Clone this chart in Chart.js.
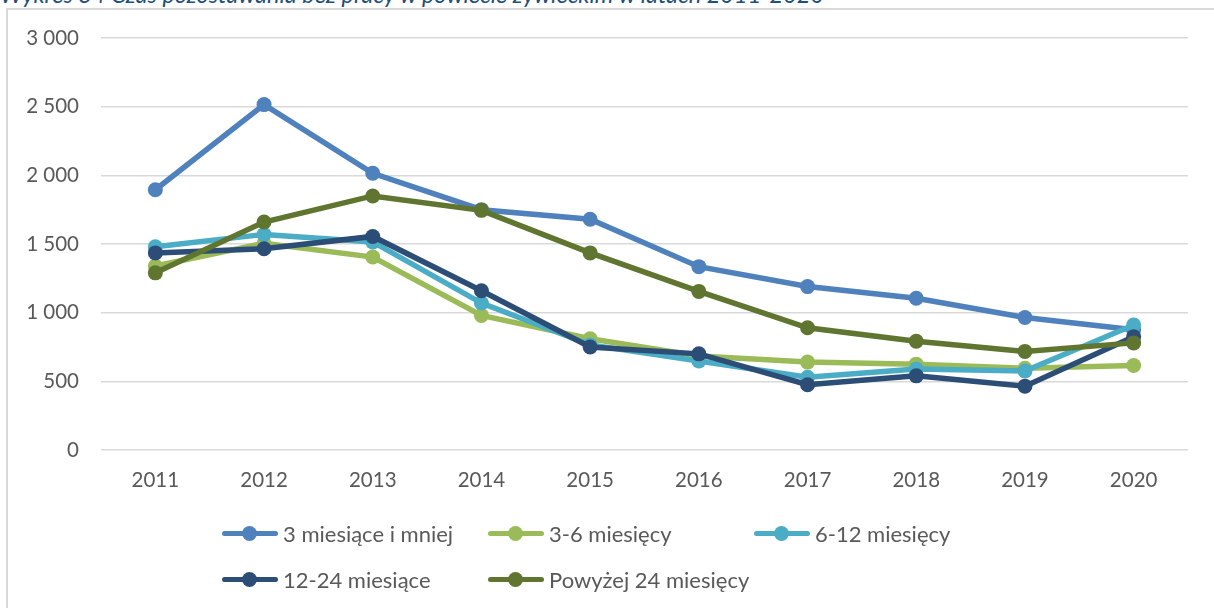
<!DOCTYPE html>
<html lang="pl">
<head>
<meta charset="utf-8">
<script src="https://cdn.jsdelivr.net/npm/chart.js@4/dist/chart.umd.min.js"></script>
<style>
  html, body { margin: 0; padding: 0; background: #fff; overflow: hidden; }
  body { width: 1214px; height: 608px; position: relative; font-family: Lato, "Open Sans", sans-serif; }
  .title {
    position: absolute; left: 0; top: -20px; white-space: nowrap;
    font-style: italic; font-size: 23.5px; color: #1f4e79;
  }
  .frame {
    position: absolute; left: 6px; top: 8px; width: 1300px; height: 700px;
    border: 2px solid #d9d9d9; box-sizing: border-box;
  }
  #chart { position: absolute; left: 0; top: 0; }
  .legend {
    position: absolute; left: 222px; top: 519px;
    display: grid; grid-template-columns: 266px 266px 266px; row-gap: 18px;
  }
  .legend-item {
    display: flex; align-items: center; height: 28px; white-space: nowrap;
    color: #595959; font-size: 22px;
  }
  .swatch { position: relative; width: 56px; height: 5px; margin-right: 5px; border-radius: 2.5px; flex: none; }
  .swatch::after {
    content: ""; position: absolute; left: 20px; top: -5px; width: 15px; height: 15px;
    border-radius: 50%; background: inherit;
  }
</style>
</head>
<body>
<div class="title">Wykres 34 Czas pozostawania bez pracy w powiecie żywieckim w latach 2011-2020</div>
<div class="frame"></div>
<canvas id="chart" width="1214" height="608"></canvas>
<div class="legend" id="legend"></div>
<script>
const years = ['2011', '2012', '2013', '2014', '2015', '2016', '2017', '2018', '2019', '2020']
const seriesNames = ['3 miesiące i mniej', '3-6 miesięcy', '6-12 miesięcy', '12-24 miesiące', 'Powyżej 24 miesięcy']
const upTo3 = [1895, 2515, 2015, 1750, 1680, 1335, 1190, 1105, 965, 875]
const from3to6 = [1340, 1505, 1405, 980, 810, 685, 640, 625, 595, 615]
const from6to12 = [1480, 1570, 1515, 1070, 765, 648, 530, 590, 575, 910]
const from12to24 = [1435, 1465, 1555, 1160, 750, 700, 475, 540, 465, 825]
const over24 = [1290, 1660, 1850, 1745, 1435, 1155, 890, 792, 718, 780]
const yTicks = [0, 500, 1000, 1500, 2000, 2500, 3000]

const colors = ['#4f81bd', '#9bbb59', '#4bacc6', '#2c4d75', '#5f7530']
const values = [upTo3, from3to6, from6to12, from12to24, over24]

const fmt = (v) => String(v).replace(/\B(?=(\d{3})+(?!\d))/g, ' ')

const datasets = values.map((data, i) => ({
  label: seriesNames[i],
  data,
  borderColor: colors[i],
  backgroundColor: colors[i],
  borderWidth: 5.5,
  pointRadius: 7.5,
  pointHoverRadius: 7.5,
  pointBorderWidth: 0,
  tension: 0,
  // later series sit on top, like in the spreadsheet
  order: values.length - i,
}))

const tickFont = { family: 'Lato', size: 20.5 }

const chart = new Chart(document.getElementById('chart'), {
  type: 'line',
  data: { labels: years, datasets },
  options: {
    responsive: false,
    animation: false,
    layout: { padding: { top: 38, right: 26, bottom: 108, left: 0 } },
    plugins: { legend: { display: false }, tooltip: { enabled: false } },
    scales: {
      x: {
        offset: true,
        grid: { display: false },
        border: { display: false },
        ticks: { color: '#595959', font: tickFont, padding: 10 },
        afterFit: (scale) => { scale.height = 50 },
      },
      y: {
        min: 0,
        max: 3000,
        afterBuildTicks: (scale) => { scale.ticks = yTicks.map((value) => ({ value })) },
        grid: { color: '#d9d9d9', lineWidth: 1.5, drawTicks: false },
        border: { display: false },
        ticks: { color: '#595959', font: tickFont, padding: 22, callback: fmt },
        afterFit: (scale) => { scale.width = 101 },
      },
    },
  },
})

// legend built from the chart's own datasets
const legend = document.getElementById('legend')
chart.data.datasets.forEach((ds) => {
  const item = document.createElement('div')
  item.className = 'legend-item'
  const sw = document.createElement('span')
  sw.className = 'swatch'
  sw.style.background = ds.borderColor
  item.appendChild(sw)
  item.appendChild(document.createTextNode(ds.label))
  legend.appendChild(item)
})
</script>
</body>
</html>
